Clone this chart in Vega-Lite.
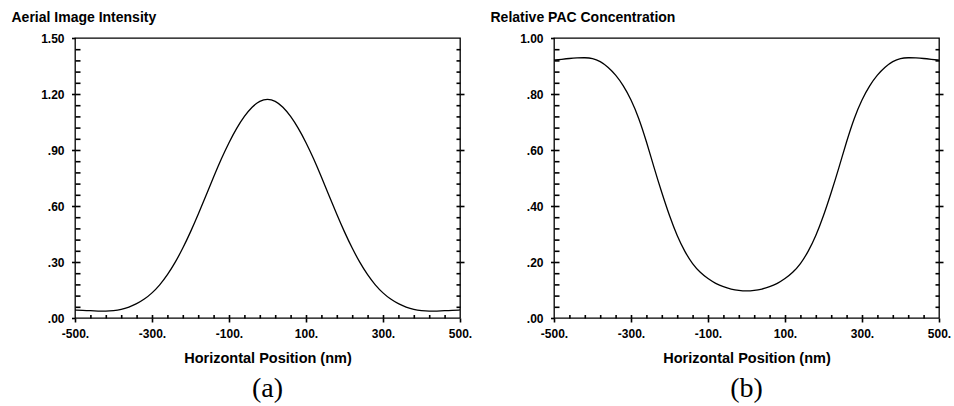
{
  "$schema": "https://vega.github.io/schema/vega-lite/v6.json",
  "padding": {"left": 10, "top": 9, "right": 5, "bottom": 2},
  "bounds": "flush",
  "spacing": 94,
  "config": {
    "view": {"stroke": "#000", "strokeWidth": 1.3},
    "axis": {
      "domain": false, "grid": false, "ticks": true, "tickColor": "#000", "tickWidth": 1.6, "tickOpacity": 1, "tickRound": false,
      "labelColor": "#000", "titleColor": "#000",
      "labelFont": "Liberation Sans", "titleFont": "Liberation Sans",
      "labelFontWeight": "bold", "titleFontWeight": "bold",
      "labelFontSize": 12, "titleFontSize": 14,
      "labelFlush": false, "labelOverlap": false, "labelBound": false
    }
  },
  "datasets": {
    "a": [
      {"x": -500, "v": 0.043}, {"x": -480, "v": 0.041}, {"x": -460, "v": 0.039}, {"x": -440, "v": 0.037}, {"x": -420, "v": 0.036},
      {"x": -400, "v": 0.039}, {"x": -380, "v": 0.045}, {"x": -360, "v": 0.058}, {"x": -340, "v": 0.076}, {"x": -320, "v": 0.100},
      {"x": -300, "v": 0.133}, {"x": -280, "v": 0.176}, {"x": -260, "v": 0.230}, {"x": -240, "v": 0.296}, {"x": -220, "v": 0.373},
      {"x": -200, "v": 0.460}, {"x": -180, "v": 0.555}, {"x": -160, "v": 0.655}, {"x": -140, "v": 0.756}, {"x": -120, "v": 0.853},
      {"x": -100, "v": 0.941}, {"x": -80, "v": 1.018}, {"x": -60, "v": 1.082}, {"x": -40, "v": 1.132}, {"x": -20, "v": 1.164},
      {"x": 0, "v": 1.175},
      {"x": 20, "v": 1.164}, {"x": 40, "v": 1.132}, {"x": 60, "v": 1.082}, {"x": 80, "v": 1.018}, {"x": 100, "v": 0.941},
      {"x": 120, "v": 0.853}, {"x": 140, "v": 0.756}, {"x": 160, "v": 0.655}, {"x": 180, "v": 0.555}, {"x": 200, "v": 0.460},
      {"x": 220, "v": 0.373}, {"x": 240, "v": 0.296}, {"x": 260, "v": 0.230}, {"x": 280, "v": 0.176}, {"x": 300, "v": 0.133},
      {"x": 320, "v": 0.100}, {"x": 340, "v": 0.076}, {"x": 360, "v": 0.058}, {"x": 380, "v": 0.045}, {"x": 400, "v": 0.039},
      {"x": 420, "v": 0.036}, {"x": 440, "v": 0.037}, {"x": 460, "v": 0.039}, {"x": 480, "v": 0.041}, {"x": 500, "v": 0.043}
    ],
    "b": [
      {"x": -500, "v": 0.921}, {"x": -480, "v": 0.924}, {"x": -460, "v": 0.927}, {"x": -440, "v": 0.929}, {"x": -420, "v": 0.930},
      {"x": -400, "v": 0.928}, {"x": -380, "v": 0.917}, {"x": -360, "v": 0.897}, {"x": -340, "v": 0.869}, {"x": -320, "v": 0.831},
      {"x": -300, "v": 0.781}, {"x": -280, "v": 0.716}, {"x": -260, "v": 0.631}, {"x": -240, "v": 0.536}, {"x": -220, "v": 0.447},
      {"x": -200, "v": 0.364}, {"x": -180, "v": 0.292}, {"x": -160, "v": 0.236}, {"x": -140, "v": 0.192}, {"x": -120, "v": 0.162},
      {"x": -100, "v": 0.140}, {"x": -80, "v": 0.123}, {"x": -60, "v": 0.111}, {"x": -40, "v": 0.103}, {"x": -20, "v": 0.098},
      {"x": 0, "v": 0.096},
      {"x": 20, "v": 0.098}, {"x": 40, "v": 0.103}, {"x": 60, "v": 0.111}, {"x": 80, "v": 0.123}, {"x": 100, "v": 0.140},
      {"x": 120, "v": 0.162}, {"x": 140, "v": 0.192}, {"x": 160, "v": 0.236}, {"x": 180, "v": 0.292}, {"x": 200, "v": 0.364},
      {"x": 220, "v": 0.447}, {"x": 240, "v": 0.536}, {"x": 260, "v": 0.631}, {"x": 280, "v": 0.716}, {"x": 300, "v": 0.781},
      {"x": 320, "v": 0.831}, {"x": 340, "v": 0.869}, {"x": 360, "v": 0.897}, {"x": 380, "v": 0.917}, {"x": 400, "v": 0.928},
      {"x": 420, "v": 0.930}, {"x": 440, "v": 0.929}, {"x": 460, "v": 0.927}, {"x": 480, "v": 0.924}, {"x": 500, "v": 0.921}
    ]
  },
  "hconcat": [
    {
      "width": 385, "height": 280,
      "data": {"name": "a"},
      "title": {"text": "(a)", "orient": "bottom", "anchor": "middle", "frame": "group", "font": "Liberation Serif", "fontSize": 28, "fontWeight": "normal", "color": "#000", "offset": 10},
      "resolve": {"axis": {"x": "independent", "y": "independent"}},
      "layer": [
        {
          "mark": {"type": "line", "color": "#000", "strokeWidth": 1.3, "interpolate": "basis"},
          "encoding": {
            "x": {"field": "x", "type": "quantitative", "scale": {"domain": [-500, 500], "nice": false, "zero": false},
              "axis": {"orient": "bottom", "values": [-500, -300, -100, 100, 300, 500], "labelExpr": "datum.value + '.'", "tickSize": 4, "labelPadding": 6,
                "title": "Horizontal Position (nm)", "titleFontSize": 14.5, "titleY": 44, "titleBaseline": "alphabetic"}},
            "y": {"field": "v", "type": "quantitative", "scale": {"domain": [0, 1.5], "nice": false, "zero": false},
              "axis": {"orient": "left", "values": [0, 0.3, 0.6, 0.9, 1.2, 1.5], "labelExpr": "datum.value < 1 ? slice(format(datum.value, '.2f'), 1) : format(datum.value, '.2f')", "tickSize": 3.5, "labelPadding": 7.5,
                "title": "Aerial Image Intensity", "titleAngle": 0, "titleX": -64, "titleY": -17, "titleAlign": "left", "titleBaseline": "alphabetic"}}
          }
        },
        {
          "mark": {"type": "line", "opacity": 0},
          "encoding": {
            "x": {"field": "x", "type": "quantitative", "axis": {"orient": "bottom", "values": [-460, -420, -380, -340, -300, -260, -220, -180, -140, -100, -60, -20, 20, 60, 100, 140, 180, 220, 260, 300, 340, 380, 420, 460], "tickSize": -3.5, "labels": false, "title": null}},
            "y": {"field": "v", "type": "quantitative", "axis": {"orient": "left", "values": [0.06, 0.12, 0.18, 0.24, 0.3, 0.36, 0.42, 0.48, 0.54, 0.6, 0.66, 0.72, 0.78, 0.84, 0.9, 0.96, 1.02, 1.08, 1.14, 1.2, 1.26, 1.32, 1.38, 1.44], "tickSize": -5, "labels": false, "title": null}}
          }
        },
        {
          "mark": {"type": "line", "opacity": 0},
          "encoding": {
            "x": {"field": "x", "type": "quantitative", "axis": null},
            "y": {"field": "v", "type": "quantitative", "axis": {"orient": "right", "values": [0.06, 0.12, 0.18, 0.24, 0.3, 0.36, 0.42, 0.48, 0.54, 0.6, 0.66, 0.72, 0.78, 0.84, 0.9, 0.96, 1.02, 1.08, 1.14, 1.2, 1.26, 1.32, 1.38, 1.44], "tickSize": -4, "labels": false, "title": null}}
          }
        },
        {
          "mark": {"type": "line", "opacity": 0},
          "encoding": {
            "x": {"field": "x", "type": "quantitative", "axis": null},
            "y": {"field": "v", "type": "quantitative", "axis": {"orient": "right", "values": [0.3, 0.6, 0.9, 1.2], "tickSize": 4, "labels": false, "title": null}}
          }
        }
      ]
    },
    {
      "width": 385, "height": 280,
      "data": {"name": "b"},
      "title": {"text": "(b)", "orient": "bottom", "anchor": "middle", "frame": "group", "font": "Liberation Serif", "fontSize": 28, "fontWeight": "normal", "color": "#000", "offset": 10},
      "resolve": {"axis": {"x": "independent", "y": "independent"}},
      "layer": [
        {
          "mark": {"type": "line", "color": "#000", "strokeWidth": 1.3, "interpolate": "basis"},
          "encoding": {
            "x": {"field": "x", "type": "quantitative", "scale": {"domain": [-500, 500], "nice": false, "zero": false},
              "axis": {"orient": "bottom", "values": [-500, -300, -100, 100, 300, 500], "labelExpr": "datum.value + '.'", "tickSize": 4, "labelPadding": 6,
                "title": "Horizontal Position (nm)", "titleFontSize": 14.5, "titleY": 44, "titleBaseline": "alphabetic"}},
            "y": {"field": "v", "type": "quantitative", "scale": {"domain": [0, 1], "nice": false, "zero": false},
              "axis": {"orient": "left", "values": [0, 0.2, 0.4, 0.6, 0.8, 1], "labelExpr": "datum.value < 1 ? slice(format(datum.value, '.2f'), 1) : format(datum.value, '.2f')", "tickSize": 3.5, "labelPadding": 7.5,
                "title": "Relative PAC Concentration", "titleAngle": 0, "titleX": -64, "titleY": -17, "titleAlign": "left", "titleBaseline": "alphabetic"}}
          }
        },
        {
          "mark": {"type": "line", "opacity": 0},
          "encoding": {
            "x": {"field": "x", "type": "quantitative", "axis": {"orient": "bottom", "values": [-460, -420, -380, -340, -300, -260, -220, -180, -140, -100, -60, -20, 20, 60, 100, 140, 180, 220, 260, 300, 340, 380, 420, 460], "tickSize": -3.5, "labels": false, "title": null}},
            "y": {"field": "v", "type": "quantitative", "axis": {"orient": "left", "values": [0.04, 0.08, 0.12, 0.16, 0.2, 0.24, 0.28, 0.32, 0.36, 0.4, 0.44, 0.48, 0.52, 0.56, 0.6, 0.64, 0.68, 0.72, 0.76, 0.8, 0.84, 0.88, 0.92, 0.96], "tickSize": -5, "labels": false, "title": null}}
          }
        },
        {
          "mark": {"type": "line", "opacity": 0},
          "encoding": {
            "x": {"field": "x", "type": "quantitative", "axis": null},
            "y": {"field": "v", "type": "quantitative", "axis": {"orient": "right", "values": [0.04, 0.08, 0.12, 0.16, 0.2, 0.24, 0.28, 0.32, 0.36, 0.4, 0.44, 0.48, 0.52, 0.56, 0.6, 0.64, 0.68, 0.72, 0.76, 0.8, 0.84, 0.88, 0.92, 0.96], "tickSize": -4, "labels": false, "title": null}}
          }
        },
        {
          "mark": {"type": "line", "opacity": 0},
          "encoding": {
            "x": {"field": "x", "type": "quantitative", "axis": null},
            "y": {"field": "v", "type": "quantitative", "axis": {"orient": "right", "values": [0.2, 0.4, 0.6, 0.8], "tickSize": 4, "labels": false, "title": null}}
          }
        }
      ]
    }
  ]
}
